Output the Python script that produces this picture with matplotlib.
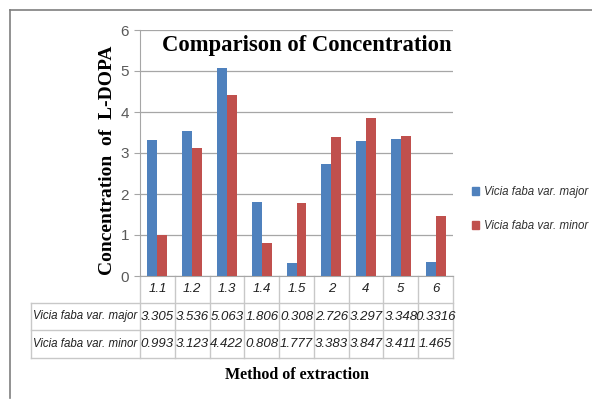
import numpy as np
import matplotlib.pyplot as plt
from matplotlib import font_manager
from matplotlib.patches import Patch
from matplotlib.lines import Line2D

# Data
methods = ['1.1', '1.2', '1.3', '1.4', '1.5', '2', '4', '5', '6']
major = [3.305, 3.536, 5.063, 1.806, 0.308, 2.726, 3.297, 3.348, 0.3316]
minor = [0.993, 3.123, 4.422, 0.808, 1.777, 3.383, 3.847, 3.411, 1.465]
major_txt = ['3.305', '3.536', '5.063', '1.806', '0.308', '2.726', '3.297', '3.348', '0.3316']
minor_txt = ['0.993', '3.123', '4.422', '0.808', '1.777', '3.383', '3.847', '3.411', '1.465']
series_names = ['Vicia faba var. major', 'Vicia faba var. minor']

BLUE = '#4F81BD'
RED = '#C0504D'
GRID = '#A6A6A6'
TBL = '#C8C8C8'
SERIF = ['Liberation Serif', 'DejaVu Serif']

# narrow sans if there is one, else plain Liberation Sans a bit smaller
names = {f.name for f in font_manager.fontManager.ttflist}
if 'Liberation Sans Narrow' in names:
    SANS, tsize, nsize = ['Liberation Sans Narrow'], 11, 10
else:
    SANS, tsize, nsize = ['Liberation Sans', 'DejaVu Sans'], 9.5, 8.3

W, H = 592, 401
fig = plt.figure(figsize=(W / 100, H / 100), dpi=100)

# outer frame (top and left edges only visible)
fig.add_artist(Line2D([10 / W, 1.0], [1 - 10 / H, 1 - 10 / H], color='#7F7F7F', lw=1.2))
fig.add_artist(Line2D([10 / W, 10 / W], [1 - 10 / H, 1 - 398 / H], color='#7F7F7F', lw=1.2))

left, right, top, bottom = 140, 453, 30, 276
ax = fig.add_axes([left / W, 1 - bottom / H, (right - left) / W, (bottom - top) / H])

x = np.arange(len(methods))
bw = 0.286
ax.bar(x - bw / 2, major, bw, color=BLUE, zorder=3)
ax.bar(x + bw / 2, minor, bw, color=RED, zorder=3)

ax.set_xlim(-0.5, len(methods) - 0.5)
ax.set_ylim(0, 6)
ax.set_yticks(range(7))
ax.yaxis.grid(True, color=GRID, lw=0.9, zorder=0)
ax.set_xticks([])
for s in ['top', 'right']:
    ax.spines[s].set_visible(False)
ax.spines['left'].set_color(GRID)
ax.spines['bottom'].set_color(GRID)
ax.tick_params(axis='y', colors=GRID, length=4, labelcolor='#595959', labelsize=11, pad=4)
for lab in ax.get_yticklabels():
    lab.set_family(SANS)

# data table under the plot, drawn by hand
def ay(py):
    return (bottom - py) / (bottom - top)

xt = ax.get_xaxis_transform()
row_y = [276, 303, 330, 358]
n = len(methods)
for k in range(n + 1):
    ax.plot([k - 0.5, k - 0.5], [ay(row_y[0]), ay(row_y[-1])], color=TBL, lw=1,
            transform=xt, clip_on=False)
lx = (31 - left) / (right - left)
for py in row_y[1:]:
    ax.plot([lx, 1], [ay(py), ay(py)], color=TBL, lw=1, transform=ax.transAxes, clip_on=False)
ax.plot([lx, lx], [ay(row_y[1]), ay(row_y[-1])], color=TBL, lw=1,
        transform=ax.transAxes, clip_on=False)

cell_kw = dict(style='italic', family=SANS, color='#202020', va='center', clip_on=False)
for j, m in enumerate(methods):
    ax.text(j, ay((row_y[0] + row_y[1]) / 2), m, ha='center', transform=xt,
            fontsize=tsize, **cell_kw)
for i, vals in enumerate([major_txt, minor_txt], start=1):
    yc = ay((row_y[i] + row_y[i + 1]) / 2)
    ax.text(lx + 2 / (right - left), yc, series_names[i - 1], ha='left',
            transform=ax.transAxes, fontsize=nsize, **cell_kw)
    for j, v in enumerate(vals):
        ax.text(j, yc, v, ha='center', transform=xt, fontsize=tsize, **cell_kw)

fig.text(307 / W, 1 - 45 / H, 'Comparison of Concentration', ha='center', va='center',
         fontsize=16.3, fontweight='bold', family=SERIF)
fig.text(107 / W, 1 - 160 / H, 'Concentration  of  L-DOPA', ha='center', va='center',
         rotation=90, fontsize=14, fontweight='bold', family=SERIF)
fig.text(297 / W, 1 - 375 / H, 'Method of extraction', ha='center', va='center',
         fontsize=11.5, fontweight='bold', family=SERIF)

handles = [Patch(color=BLUE), Patch(color=RED)]
leg = fig.legend(handles, series_names, loc='center left',
                 bbox_to_anchor=(472 / W, 1 - 209 / H), frameon=False,
                 handlelength=0.6, handleheight=0.6, handletextpad=0.4,
                 labelspacing=1.9, borderpad=0, borderaxespad=0,
                 prop={'family': SANS, 'style': 'italic', 'size': nsize})
for t in leg.get_texts():
    t.set_color('#303030')

fig.savefig('out.png', dpi=100)
